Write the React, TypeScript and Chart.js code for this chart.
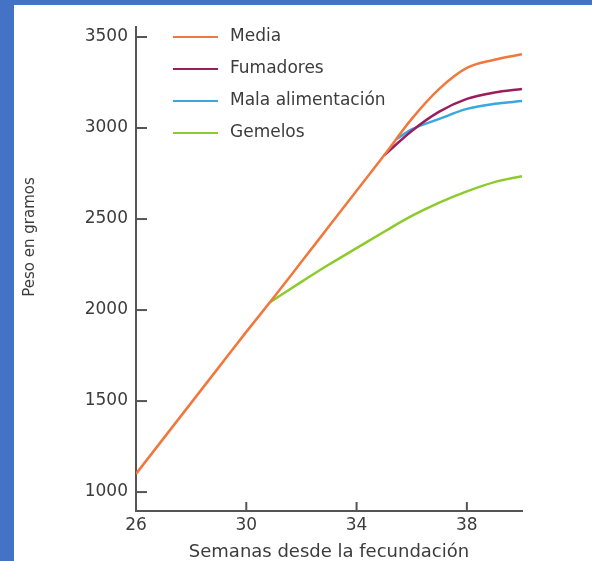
import { useEffect, useRef } from "react";
import { Chart, registerables } from "chart.js";
Chart.register(...registerables);

// ---- data ----
const xTickValues = [26, 30, 34, 38];
const yTickValues = [1000, 1500, 2000, 2500, 3000, 3500];

const mediaWeeks = [26, 27, 28, 29, 30, 31, 32, 33, 34, 35, 36, 37, 38, 39, 40];
const mediaValues = [1100, 1295, 1490, 1685, 1880, 2070, 2265, 2460, 2655, 2850, 3050, 3215, 3330, 3375, 3405];

const fumadoresWeeks = [35, 36, 37, 38, 39, 40];
const fumadoresValues = [2850, 2984, 3090, 3160, 3195, 3215];

const malaWeeks = [35.45, 36, 37, 38, 39, 40];
const malaValues = [2940, 2992, 3050, 3105, 3133, 3148];

const gemelosWeeks = [30.85, 32, 33, 34, 35, 36, 37, 38, 39, 40];
const gemelosValues = [2042, 2155, 2250, 2340, 2430, 2517, 2590, 2652, 2703, 2735];

const seriesLabels = ["Media", "Fumadores", "Mala alimentación", "Gemelos"];
const seriesColors = ["#F0783C", "#9A1E5C", "#3AA8E0", "#8DCB2C"];

const xTitle = "Semanas desde la fecundación";
const yTitle = "Peso en gramos";

const FONT = "'DejaVu Sans', 'Liberation Sans', sans-serif";
const AXIS = "#555555";
const TEXT = "#3c3c3c";

export default function App() {
  const ref = useRef<HTMLCanvasElement>(null);

  useEffect(() => {
    const canvas = ref.current;
    if (!canvas) return;
    const pts = (xs: number[], ys: number[]) => xs.map((x, i) => ({ x, y: ys[i] }));
    const seriesX = [mediaWeeks, fumadoresWeeks, malaWeeks, gemelosWeeks];
    const seriesY = [mediaValues, fumadoresValues, malaValues, gemelosValues];

    const custom = {
      id: "custom",
      afterDraw(chart: any) {
        const { ctx, chartArea, scales } = chart;
        ctx.save();
        ctx.strokeStyle = AXIS;
        ctx.lineWidth = 2;
        // inward tick marks
        scales.y.ticks.forEach((t: any) => {
          const py = scales.y.getPixelForValue(t.value);
          ctx.beginPath();
          ctx.moveTo(chartArea.left, py);
          ctx.lineTo(chartArea.left + 11, py);
          ctx.stroke();
        });
        scales.x.ticks.forEach((t: any) => {
          const px = scales.x.getPixelForValue(t.value);
          ctx.beginPath();
          ctx.moveTo(px, chartArea.bottom);
          ctx.lineTo(px, chartArea.bottom - 9);
          ctx.stroke();
        });
        // legend
        ctx.font = `17px ${FONT}`;
        ctx.textBaseline = "middle";
        ctx.textAlign = "left";
        chart.data.datasets.forEach((ds: any, i: number) => {
          const y = 32 + 32 * i;
          ctx.strokeStyle = ds.borderColor;
          ctx.lineWidth = 2;
          ctx.beginPath();
          ctx.moveTo(159, y);
          ctx.lineTo(204, y);
          ctx.stroke();
          ctx.fillStyle = TEXT;
          ctx.fillText(ds.label, 216, y);
        });
        // y axis title
        ctx.translate(16, 232);
        ctx.rotate(-Math.PI / 2);
        ctx.font = `15px ${FONT}`;
        ctx.textAlign = "center";
        ctx.fillStyle = TEXT;
        ctx.fillText(yTitle, 0, 0);
        ctx.restore();
      },
    };

    const chart = new Chart(canvas, {
      type: "line",
      data: {
        datasets: seriesLabels.map((label, i) => ({
          label,
          data: pts(seriesX[i], seriesY[i]),
          borderColor: seriesColors[i],
          backgroundColor: seriesColors[i],
          borderWidth: 2.5,
          pointRadius: 0,
          fill: false,
          cubicInterpolationMode: "monotone" as const,
        })),
      },
      options: {
        responsive: false,
        animation: false,
        devicePixelRatio: 1,
        layout: { padding: { top: 22, right: 70, left: 0, bottom: 0 } },
        plugins: { legend: { display: false }, tooltip: { enabled: false } },
        scales: {
          x: {
            type: "linear",
            bounds: "data",
            min: 26,
            max: 40,
            afterBuildTicks: (s: any) => {
              s.ticks = xTickValues.map((value) => ({ value }));
            },
            afterFit: (s: any) => {
              s.height = 50;
            },
            ticks: {
              font: { family: FONT, size: 17 },
              color: TEXT,
              padding: 4,
              callback: (v: any) => String(v),
            },
            grid: { display: true, drawOnChartArea: false, drawTicks: false },
            border: { display: true, color: AXIS, width: 2 },
            title: {
              display: true,
              text: xTitle,
              color: TEXT,
              font: { family: FONT, size: 18, lineHeight: 1 },
              padding: 0,
            },
          },
          y: {
            type: "linear",
            bounds: "data",
            min: 896,
            max: 3555,
            afterBuildTicks: (s: any) => {
              s.ticks = yTickValues.map((value) => ({ value }));
            },
            afterFit: (s: any) => {
              s.width = 122;
            },
            ticks: {
              font: { family: FONT, size: 17 },
              color: TEXT,
              padding: 8,
              callback: (v: any) => String(v),
            },
            grid: { display: true, drawOnChartArea: false, drawTicks: false },
            border: { display: true, color: AXIS, width: 2 },
          },
        },
      },
      plugins: [custom],
    });
    return () => chart.destroy();
  }, []);

  return (
    <div style={{ position: "absolute", left: 0, top: 0, width: 592, height: 561, background: "#4472C4" }}>
      <div style={{ position: "absolute", left: 14, top: 5, width: 578, height: 556, background: "#ffffff" }}>
        <canvas ref={ref} width={578} height={556} style={{ display: "block" }} />
      </div>
    </div>
  );
}
